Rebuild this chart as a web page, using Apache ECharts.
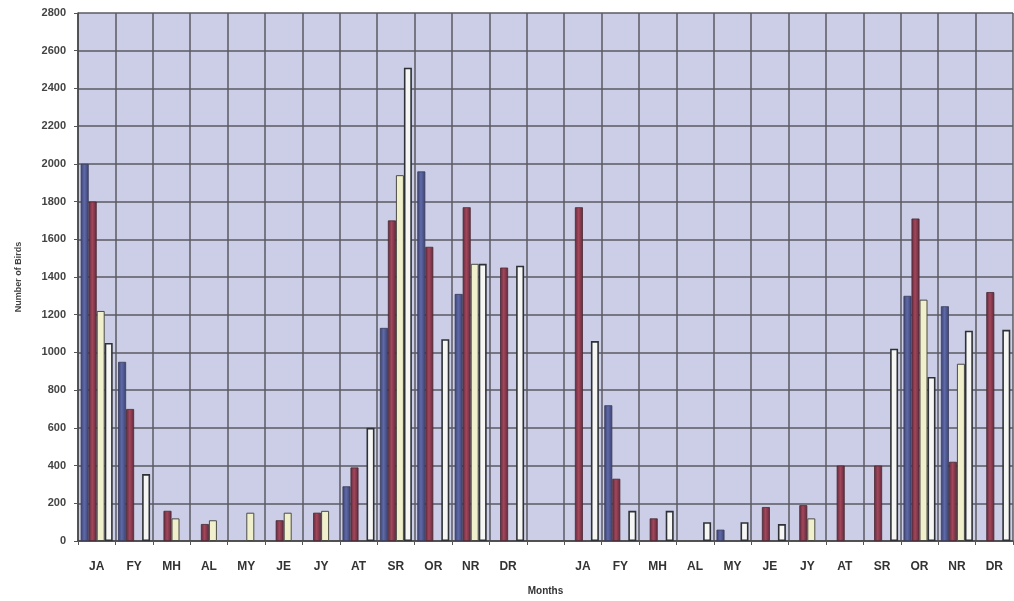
<!DOCTYPE html>
<html>
<head>
<meta charset="utf-8">
<script src="https://cdn.jsdelivr.net/npm/echarts@6/dist/echarts.min.js"></script>
<style>
html,body{margin:0;padding:0;background:#ffffff;}
#chart{width:1014px;height:601px;}
</style>
</head>
<body>
<div id="chart"></div>
<script>
const categories = ['JA','FY','MH','AL','MY','JE','JY','AT','SR','OR','NR','DR','',
                    'JA','FY','MH','AL','MY','JE','JY','AT','SR','OR','NR','DR'];
const yTicks = [0,200,400,600,800,1000,1200,1400,1600,1800,2000,2200,2400,2600,2800];

const blueSeries  = [2000,950,null,null,null,null,null,290,1130,1960,1310,null,null,
                     null,720,null,null,60,null,null,null,null,1300,1245,null];
const redSeries   = [1800,700,160,90,null,110,150,390,1700,1560,1770,1450,null,
                     1770,330,120,null,null,180,190,400,400,1710,420,1320];
const creamSeries = [1220,null,120,110,150,150,160,null,1940,null,1470,null,null,
                     null,null,null,null,null,null,120,null,null,1280,940,null];
const whiteSeries = [1050,355,null,null,null,null,null,600,2510,1070,1470,1460,null,
                     1060,160,160,100,100,90,null,null,1020,870,1115,1120];

const chart = echarts.init(document.getElementById('chart'));

function grad(edge, mid){
  return new echarts.graphic.LinearGradient(0,0,1,0,[
    {offset:0,color:edge},{offset:0.45,color:mid},{offset:1,color:edge}
  ]);
}

const barW = 8;
chart.setOption({
  animation:false,
  backgroundColor:'#ffffff',
  grid:{left:78,top:13,right:1,bottom:58,show:true,backgroundColor:'#cbcee6',borderWidth:0},
  xAxis:{
    type:'category',
    data:categories,
    name:'Months',
    nameLocation:'middle',
    nameGap:45,
    nameTextStyle:{fontFamily:'Liberation Sans',fontWeight:'bold',fontSize:10,color:'#333'},
    axisLine:{show:true,lineStyle:{color:'#444',width:1.5}},
    axisTick:{show:true,length:4,lineStyle:{color:'#555'}},
    axisLabel:{fontFamily:'Liberation Sans',fontWeight:'bold',fontSize:12,color:'#333',margin:20,interval:0},
    splitLine:{show:true,interval:0,lineStyle:{color:'#5a5a62',width:1.5}}
  },
  yAxis:{
    type:'value',
    min:yTicks[0],
    max:yTicks[yTicks.length-1],
    interval:200,
    name:'Number of Birds',
    nameLocation:'middle',
    nameGap:55,
    nameTextStyle:{fontFamily:'Liberation Sans',fontWeight:'bold',fontSize:9,color:'#444'},
    axisLine:{show:true,lineStyle:{color:'#444',width:1.5}},
    axisTick:{show:true,length:4,lineStyle:{color:'#555'}},
    axisLabel:{fontFamily:'Liberation Sans',fontWeight:'bold',fontSize:11,color:'#444',margin:12,
               formatter:function(v){return String(v);}},
    splitLine:{show:true,lineStyle:{color:'#5a5a62',width:1.5}}
  },
  series:[
    {name:'S1',type:'bar',data:blueSeries,barWidth:barW,barGap:'0%',
     itemStyle:{color:grad('#3c4070','#5e6aa8'),borderColor:'#3a3c5a',borderWidth:0.8}},
    {name:'S2',type:'bar',data:redSeries,barWidth:barW,barGap:'0%',
     itemStyle:{color:grad('#5e2a3e','#a4465a'),borderColor:'#4a2a34',borderWidth:0.8}},
    {name:'S3',type:'bar',data:creamSeries,barWidth:barW,barGap:'0%',
     itemStyle:{color:'#f1f0cc',borderColor:'#4a4a44',borderWidth:1}},
    {name:'S4',type:'bar',data:whiteSeries,barWidth:barW,barGap:'0%',
     itemStyle:{color:'#f6f6f4',borderColor:'#2e3236',borderWidth:1.6}}
  ]
});
</script>
</body>
</html>
